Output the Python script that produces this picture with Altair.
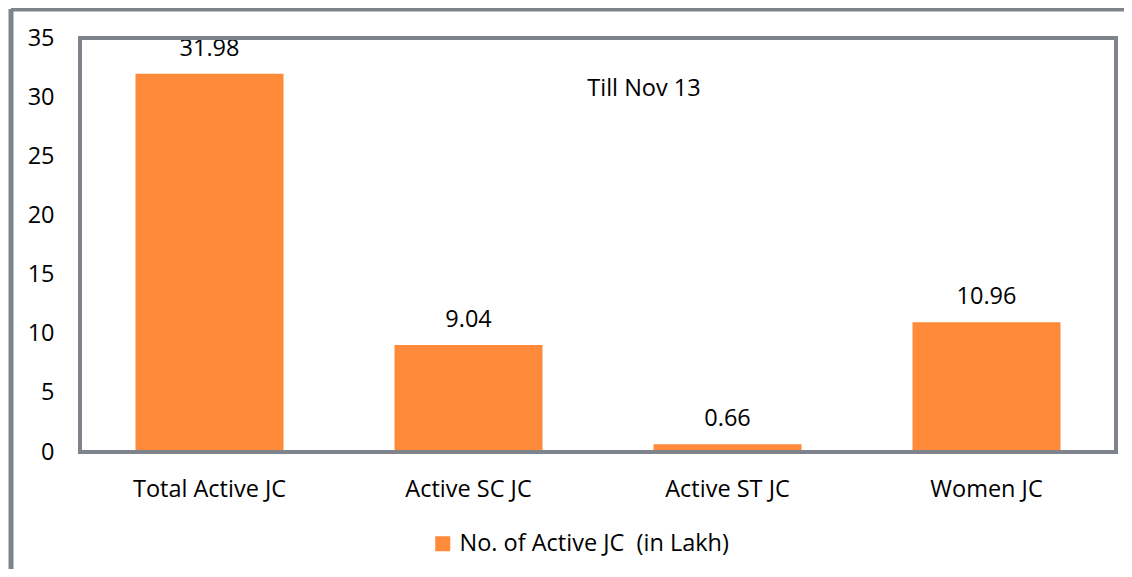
import altair as alt
import pandas as pd

categories = ["Total Active JC", "Active SC JC", "Active ST JC", "Women JC"]
values = [31.98, 9.04, 0.66, 10.96]
series_name = "No. of Active JC \u00a0(in Lakh)"
y_ticks = [0, 5, 10, 15, 20, 25, 30, 35]
note = "Till Nov 13"

df = pd.DataFrame({"cat": categories, "val": values, "series": [series_name] * len(categories)})
df["label"] = [f"{v:.2f}" for v in values]
one = pd.DataFrame({"k": [0]})

W, H = 1036, 414
FONT = "Open Sans"
FS = 23.5
ORANGE = "#FE8A3A"
GREY = "#7F838B"

x_enc = alt.X("cat:N", sort=categories, title=None,
              scale=alt.Scale(paddingInner=0.43, paddingOuter=0.215),
              axis=alt.Axis(labelAngle=0, domain=False, ticks=False, labelPadding=25,
                            labelFontSize=FS, labelFont=FONT, labelColor="#000000"))
y_enc = alt.Y("val:Q", title=None,
              scale=alt.Scale(domain=[0, 35], nice=False),
              axis=alt.Axis(values=y_ticks, grid=False, domain=False, ticks=False,
                            labelPadding=26, labelFontSize=FS, labelFont=FONT,
                            labelColor="#000000"))

bars = alt.Chart(df).mark_bar(size=148).encode(
    x=x_enc, y=y_enc,
    color=alt.Color("series:N", scale=alt.Scale(range=[ORANGE]), title=None,
                    legend=alt.Legend(orient="none", legendX=351, legendY=494,
                                      symbolType="square", symbolSize=225,
                                      symbolStrokeWidth=0, labelFontSize=FS,
                                      labelFont=FONT, labelColor="#000000",
                                      padding=0, labelOffset=5, labelLimit=400)),
)

labels = alt.Chart(df).mark_text(dy=-13, fontSize=FS, font=FONT, color="#000000",
                                 baseline="bottom").encode(
    x=alt.X("cat:N", sort=categories), y="val:Q", text="label:N")

frame = alt.Chart(one).mark_rect(filled=False, stroke=GREY, strokeWidth=4).encode(
    x=alt.value(0), x2=alt.value(W), y=alt.value(0), y2=alt.value(H))

outer_top = alt.Chart(one).mark_rule(stroke=GREY, strokeWidth=5).encode(
    x=alt.value(-69), x2=alt.value(W + 30), y=alt.value(-29))
outer_left = alt.Chart(one).mark_rule(stroke=GREY, strokeWidth=5).encode(
    x=alt.value(-69), y=alt.value(-29), y2=alt.value(H + 140))

note_text = alt.Chart(one).mark_text(fontSize=FS, font=FONT, color="#000000").encode(
    x=alt.value(564), y=alt.value(51), text=alt.value(note))

chart = alt.layer(outer_top, outer_left, bars, labels, frame, note_text).properties(
    width=W, height=H,
    autosize=alt.AutoSizeParams(type="none"),
    padding={"left": 72, "top": 30, "right": 8, "bottom": 117},
).configure_view(stroke=None).configure(background="white")

chart.save("out.html", embed_options={"renderer": "svg", "actions": False})
